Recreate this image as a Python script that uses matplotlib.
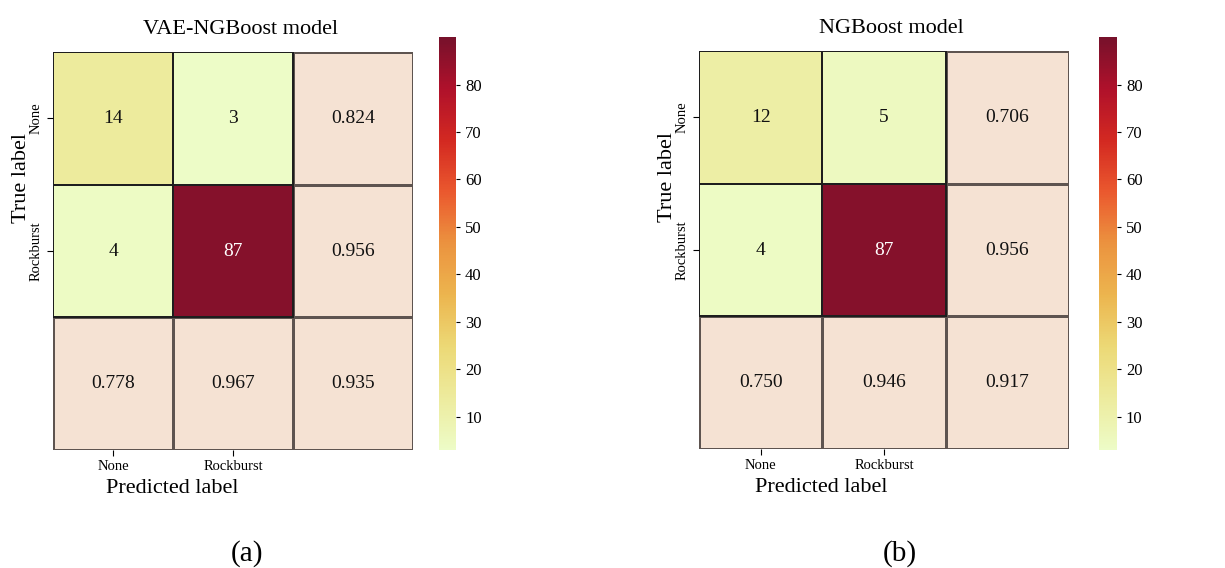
import numpy as np
import matplotlib.pyplot as plt
from matplotlib.colors import ListedColormap

plt.rcParams['font.family'] = ['Liberation Serif', 'DejaVu Serif']

# confusion matrices (rows = true, cols = predicted)
cm_vae = [[14, 3], [4, 87]]
cm_ngb = [[12, 5], [4, 87]]
# recall per row, precision per column, overall accuracy
recall_vae = [0.824, 0.956]
precision_vae = [0.778, 0.967]
acc_vae = 0.935
recall_ngb = [0.706, 0.956]
precision_ngb = [0.750, 0.946]
acc_ngb = 0.917

class_names = ['None', 'Rockburst']
titles = ['VAE-NGBoost model', 'NGBoost model']
panel_tags = ['(a)', '(b)']
cbar_ticks = [10, 20, 30, 40, 50, 60, 70, 80]

# YlOrRd, toned a little like the scanned figure
base = plt.get_cmap('YlOrRd')(np.linspace(0, 1, 256))
base[:, 0] = base[:, 0] * 0.93
base[:, 1] = base[:, 1] * 0.92 + 0.067
base[:, 2] = base[:, 2] * 0.94 + 0.027
heat_cmap = ListedColormap(base)


def build_grid(cm, recall, precision, acc):
    grid = np.zeros((3, 3))
    grid[:2, :2] = cm
    grid[:2, 2] = recall
    grid[2, :2] = precision
    grid[2, 2] = acc
    return grid


def draw(ax, cax, grid, cm, title):
    n = len(cm)
    # whole 3x3 table in the pale "metric" colour, then the counts on top
    ax.pcolormesh(np.zeros_like(grid), cmap=ListedColormap(['#f5e2d3']),
                  edgecolors='#5e5450', linewidth=1.0)
    mesh = ax.pcolormesh(np.arange(n + 1), np.arange(n + 1), np.array(cm),
                         cmap=heat_cmap, vmin=3, vmax=90,
                         edgecolors='#1e1e1e', linewidth=1.2)
    ax.set_xlim(0, 3)
    ax.set_ylim(3, 0)

    for i in range(3):
        for j in range(3):
            if i < n and j < n:
                txt = f'{int(grid[i, j])}'
                col = 'white' if grid[i, j] > 60 else '#111111'
            else:
                txt = f'{grid[i, j]:.3f}'
                col = '#111111'
            ax.text(j + 0.5, i + 0.5, txt, ha='center', va='center', fontsize=14, color=col)

    ax.set_xticks([0.5, 1.5])
    ax.set_xticklabels(class_names, fontsize=10.5)
    ax.set_yticks([0.5, 1.5])
    ax.set_yticklabels(class_names, fontsize=10.5, rotation=90, va='center')
    ax.tick_params(length=4, width=0.8)
    for s in ax.spines.values():
        s.set_visible(False)

    ax.set_title(title, fontsize=16, pad=13, x=0.52)
    ax.set_xlabel('Predicted label', fontsize=16)
    ax.xaxis.set_label_coords(0.33, -0.072)
    ax.set_ylabel('True label', fontsize=16)
    ax.yaxis.set_label_coords(-0.06, 0.683)

    cb = plt.colorbar(mesh, cax=cax, ticks=cbar_ticks)
    cb.outline.set_visible(False)
    cb.ax.tick_params(labelsize=12, length=3, width=0.8)


fig = plt.figure(figsize=(12.25, 5.68), dpi=100)
ax_a = fig.add_axes([0.0433, 0.2077, 0.2939, 0.7007])
cax_a = fig.add_axes([0.3584, 0.2077, 0.0139, 0.727])
ax_b = fig.add_axes([0.5706, 0.2095, 0.3020, 0.7007])
cax_b = fig.add_axes([0.8971, 0.2077, 0.0147, 0.727])

g_a = build_grid(cm_vae, recall_vae, precision_vae, acc_vae)
g_b = build_grid(cm_ngb, recall_ngb, precision_ngb, acc_ngb)
draw(ax_a, cax_a, g_a, cm_vae, titles[0])
draw(ax_b, cax_b, g_b, cm_ngb, titles[1])

fig.text(0.2016, 0.025, panel_tags[0], ha='center', va='center', fontsize=21)
fig.text(0.7347, 0.025, panel_tags[1], ha='center', va='center', fontsize=21)

fig.savefig('out.png', dpi=100)
